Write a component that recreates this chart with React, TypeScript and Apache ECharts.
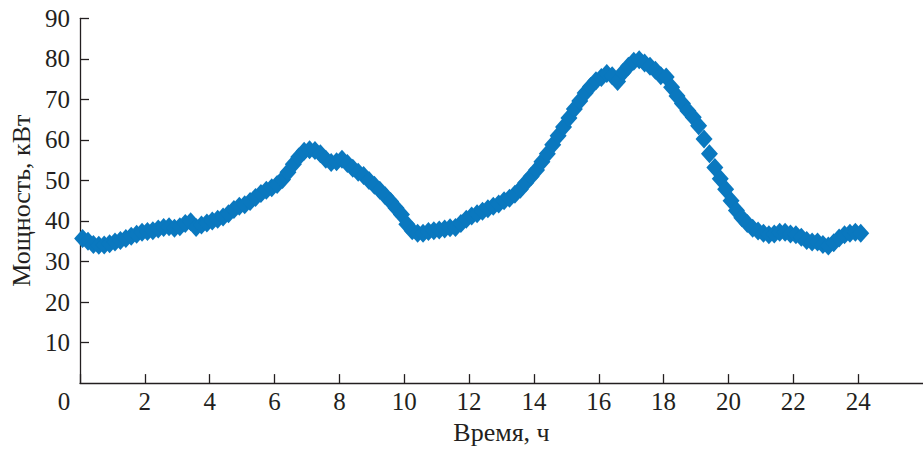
import React, { useEffect, useRef } from "react";
import * as echarts from "echarts";

// Time grid: 10-minute readings (hours)
const START_HOUR = 0.08;
const STEP_HOURS = 1 / 6;

// Power readings, kW, six per hour (hour 0 .. hour 23) plus the final reading
const hour00_05 = [35.7, 35.0, 34.2, 34.0, 34.1, 34.4, 34.8, 35.2, 35.7, 36.2, 36.7, 37.2, 37.4, 37.6, 38.0, 38.4, 38.6, 38.2, 38.6, 39.4, 39.8, 38.4, 39.0, 39.5, 40.0, 40.4, 41.0, 41.8, 42.8, 43.6, 44.0, 44.8, 45.8, 46.8, 47.6, 48.2];
const hour06_11 = [49.0, 50.2, 52.0, 54.0, 55.8, 57.2, 57.6, 57.4, 56.6, 55.2, 54.4, 54.6, 55.2, 54.2, 53.0, 52.0, 51.2, 50.0, 48.8, 47.6, 46.2, 44.8, 43.2, 41.6, 39.2, 37.6, 37.0, 37.0, 37.4, 37.6, 37.8, 38.0, 38.3, 38.4, 39.4, 40.4];
const hour12_17 = [41.2, 41.8, 42.4, 43.0, 43.6, 44.2, 45.0, 45.6, 46.6, 47.8, 49.4, 51.0, 52.6, 54.6, 56.6, 58.8, 61.0, 63.2, 65.4, 67.6, 69.6, 71.6, 73.2, 74.6, 75.4, 76.4, 75.8, 74.4, 76.6, 78.2, 79.4, 79.8, 79.0, 78.2, 77.2, 75.8];
const hour18_23 = [75.5, 73.0, 70.8, 69.0, 67.2, 65.6, 63.5, 60.2, 56.6, 53.2, 50.4, 47.8, 45.0, 42.6, 40.8, 39.4, 38.2, 37.5, 37.0, 36.6, 36.8, 37.2, 37.2, 36.8, 36.6, 36.0, 35.2, 34.8, 34.8, 34.2, 33.8, 34.6, 35.8, 36.6, 37.0, 37.2];
const finalReading = [37.0];

const powerValues = [...hour00_05, ...hour06_11, ...hour12_17, ...hour18_23, ...finalReading];

const xTicks = [0, 2, 4, 6, 8, 10, 12, 14, 16, 18, 20, 22, 24];
const yTicks = [10, 20, 30, 40, 50, 60, 70, 80, 90];

const X_NAME = "Время, ч";
const Y_NAME = "Мощность, кВт";

const FONT = "'Liberation Serif', 'DejaVu Serif', serif";
const TEXT_COLOR = "#231f20";
const AXIS_COLOR = "#231f20";
const MARK_COLOR = "#0a78bf";

export default function App() {
  const ref = useRef<HTMLDivElement>(null);

  useEffect(() => {
    if (!ref.current) return;
    const chart = echarts.init(ref.current, undefined, { renderer: "svg" });
    const data = powerValues.map((v, i) => [START_HOUR + i * STEP_HOURS, v]);

    chart.setOption({
      animation: false,
      backgroundColor: "#ffffff",
      grid: { left: 76.7, top: 18.3, bottom: 63.4, right: -7.8, containLabel: false },
      xAxis: {
        type: "value",
        min: 0,
        max: 26,
        interval: 2,
        name: X_NAME,
        nameLocation: "middle",
        nameGap: 30,
        nameTextStyle: { fontFamily: FONT, fontSize: 26, color: TEXT_COLOR },
        splitLine: { show: false },
        axisLine: { show: true, onZero: false, lineStyle: { color: AXIS_COLOR, width: 1.3 } },
        axisTick: { show: true, inside: true, length: 9, lineStyle: { color: AXIS_COLOR, width: 1.3 } },
        axisLabel: {
          show: true,
          margin: 6,
          fontFamily: FONT,
          fontSize: 25,
          color: TEXT_COLOR,
          showMaxLabel: false,
          formatter: (v: number) => {
            if (v === 0) return "{z|0}";
            return xTicks.includes(v) ? String(v) : "";
          },
          rich: {
            z: { fontFamily: FONT, fontSize: 25, color: TEXT_COLOR, padding: [0, 32, 0, 0] },
          },
        },
      },
      yAxis: {
        type: "value",
        min: 0,
        max: 90,
        interval: 10,
        name: Y_NAME,
        nameLocation: "middle",
        nameGap: 46,
        nameTextStyle: { fontFamily: FONT, fontSize: 26, color: TEXT_COLOR },
        splitLine: { show: false },
        axisLine: { show: true, onZero: false, lineStyle: { color: AXIS_COLOR, width: 1.3 } },
        axisTick: { show: true, inside: true, length: 9, lineStyle: { color: AXIS_COLOR, width: 1.3 } },
        axisLabel: {
          show: true,
          margin: 10,
          fontFamily: FONT,
          fontSize: 25,
          color: TEXT_COLOR,
          showMinLabel: false,
          formatter: (v: number) => (yTicks.includes(v) ? String(v) : ""),
        },
      },
      series: [
        {
          type: "scatter",
          data,
          symbol: "diamond",
          symbolSize: [17, 19],
          itemStyle: { color: MARK_COLOR, opacity: 1 },
          clip: false,
        },
      ],
    });

    return () => chart.dispose();
  }, []);

  return (
    <div
      ref={ref}
      style={{ position: "fixed", left: 0, top: 0, width: 923, height: 450, background: "#fff" }}
    />
  );
}
